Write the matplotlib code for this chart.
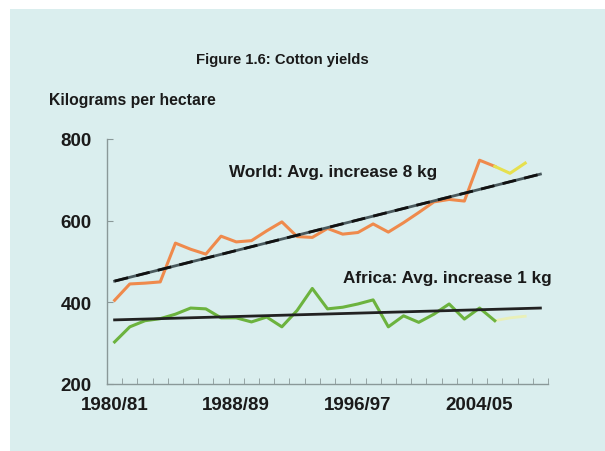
import matplotlib.pyplot as plt
from matplotlib.patches import Rectangle

plt.rcParams['font.family'] = ['Liberation Sans', 'DejaVu Sans']

# Seasons 1980/81 .. 2008/09
seasons = [f"{y}/{(y + 1) % 100:02d}" for y in range(1980, 2009)]
tick_labels = ["1980/81", "1988/89", "1996/97", "2004/05"]

# World yields (kg/ha), actual then projected
world = [405, 445, 447, 450, 545, 530, 518, 562, 548, 551,
         575, 597, 561, 559, 581, 567, 571, 592, 572, 595,
         620, 646, 652, 648, 748, 733]
world_proj = [733, 716, 741]

# Africa yields (kg/ha), actual then projected
africa = [303, 340, 355, 360, 371, 386, 384, 362, 362, 352,
          364, 340, 380, 434, 384, 388, 396, 406, 340, 367,
          351, 371, 396, 359, 386, 355]
africa_proj = [355, 362, 366]

# trend line endpoints (first and last season)
world_trend = [452, 714]
africa_trend = [357, 386]

fig = plt.figure(figsize=(6.05, 4.52), dpi=100)
fig.patch.set_facecolor("white")
fig.add_artist(Rectangle((10 / 605, 0), 1, 1 - 10 / 452, transform=fig.transFigure,
                         facecolor="#daeeee", edgecolor="none", zorder=0))

ax = fig.add_axes([107 / 605, 67 / 452, 441 / 605, 245 / 452])
ax.set_facecolor("none")

n = len(seasons)
xw = list(range(len(world)))
xp = list(range(len(world) - 1, len(world) - 1 + len(world_proj)))

ax.plot(xw, world, color="#ef8a4c", lw=2.2, zorder=3)
ax.plot(xp, world_proj, color="#e6e04e", lw=2.2, zorder=3)
ax.plot(xw, africa, color="#6cb33e", lw=2.2, zorder=3)
ax.plot(xp, africa_proj, color="#e9f0b8", lw=2.0, zorder=2)

ends = [0, n - 1]
ax.plot(ends, world_trend, color="#4a5a5e", lw=2.0, zorder=4)
ax.plot(ends, world_trend, color="#111111", lw=2.0, ls=(0, (5, 3)), zorder=5)
ax.plot(ends, africa_trend, color="#222222", lw=2.0, zorder=4)

ax.text(7.5, 721, "World: Avg. increase 8 kg", fontsize=12.3, fontweight="bold",
        color="#1a1a1a", va="center", zorder=6)
ax.text(15.0, 461, "Africa: Avg. increase 1 kg", fontsize=12.3, fontweight="bold",
        color="#1a1a1a", va="center", zorder=6)

ax.set_xlim(-0.5, n - 0.5)
ax.set_ylim(200, 800)
ax.set_yticks([200, 400, 600, 800])
ax.set_xticks([seasons.index(t) for t in tick_labels])
ax.set_xticklabels(tick_labels)
ax.set_xticks([i - 0.5 for i in range(n + 1)], minor=True)
ax.tick_params(axis="x", which="major", length=0, pad=9)
ax.tick_params(axis="x", which="minor", direction="in", length=4, color="#8a9898")
ax.tick_params(axis="y", direction="in", length=4, color="#8a9898", pad=11)
for lab in ax.get_xticklabels() + ax.get_yticklabels():
    lab.set_fontweight("bold")
    lab.set_fontsize(13.5)
    lab.set_color("#1a1a1a")

for s in ["top", "right"]:
    ax.spines[s].set_visible(False)
for s in ["left", "bottom"]:
    ax.spines[s].set_color("#8a9898")
    ax.spines[s].set_linewidth(1.0)

fig.text(282 / 605, 1 - 60 / 452, "Figure 1.6: Cotton yields", ha="center", va="center",
         fontsize=10.7, fontweight="bold", color="#1a1a1a")
fig.text(49 / 605, 1 - 100 / 452, "Kilograms per hectare", ha="left", va="center",
         fontsize=11.3, fontweight="bold", color="#1a1a1a")

fig.savefig("out.png", dpi=100)
